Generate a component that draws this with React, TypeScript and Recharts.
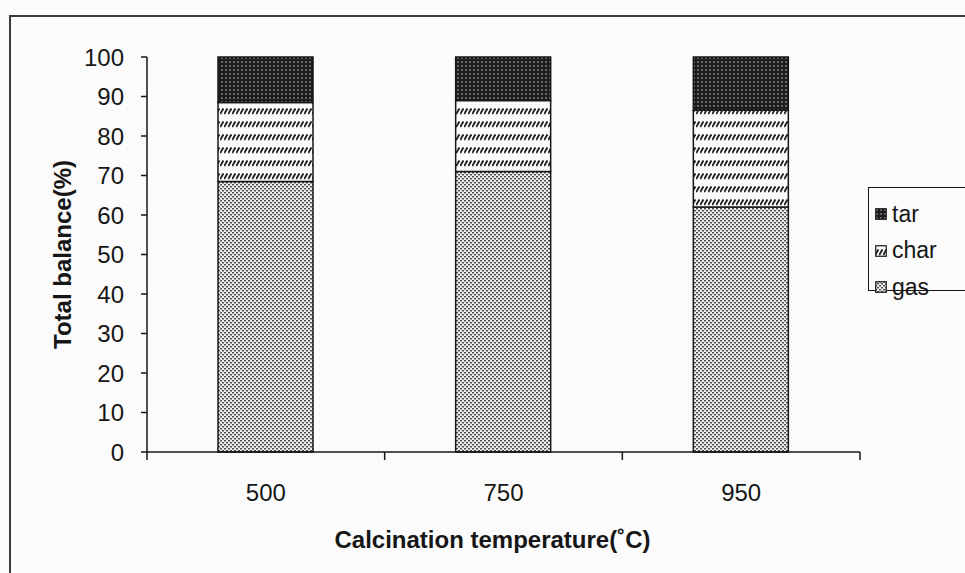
import { BarChart, Bar, XAxis, YAxis, Legend, Label } from 'recharts';

// values (%)
const temps = ['500', '750', '950'];
const gasVals = [68.5, 71, 62];
const charVals = [20, 18, 24.5];
const tarVals = [11.5, 11, 13.5];
const yTicks = [0, 10, 20, 30, 40, 50, 60, 70, 80, 90, 100];

const series = [
  { key: 'gas', name: 'gas', fill: 'url(#pGas)' },
  { key: 'char', name: 'char', fill: 'url(#pChar)' },
  { key: 'tar', name: 'tar', fill: 'url(#pTar)' },
];

const data = temps.map((t, i) => ({
  temp: t,
  gas: gasVals[i],
  char: charVals[i],
  tar: tarVals[i],
}));

const ink = '#161616';
const font = "Arial, 'Liberation Sans', sans-serif";

// category label in the middle, tick marks on the category borders (Excel style)
function TempTick(props: any) {
  const { x, y, payload, width, visibleTicksCount, index } = props;
  const half = width / visibleTicksCount / 2;
  return (
    <g>
      {index === 0 && <line x1={x - half} x2={x - half} y1={y} y2={y + 8} stroke={ink} strokeWidth={1.5} />}
      <line x1={x + half} x2={x + half} y1={y} y2={y + 8} stroke={ink} strokeWidth={1.5} />
      <text x={x} y={y + 40} textAnchor="middle" dominantBaseline="central" fontSize={24} fill={ink} fontFamily={font}>
        {payload.value}
      </text>
    </g>
  );
}

function LegendBox() {
  const items = [...series].reverse();
  return (
    <div style={{ border: `1.5px solid ${ink}`, width: 120, height: 104, boxSizing: 'border-box', padding: '8px 0 0 6px', background: '#fcfcfc' }}>
      {items.map((s) => (
        <div key={s.key} style={{ display: 'flex', alignItems: 'center', height: 36.5, fontSize: 23, color: ink, fontFamily: font }}>
          <svg width={12} height={12} style={{ marginRight: 5 }}>
            <rect x={0.75} y={0.75} width={10.5} height={10.5} fill={s.fill} stroke={ink} strokeWidth={1.2} />
          </svg>
          {s.name}
        </div>
      ))}
    </div>
  );
}

export default function App() {
  return (
    <div style={{ position: 'absolute', left: 0, top: 0, width: 965, height: 573, overflow: 'hidden', background: '#fbfbfb', fontFamily: font }}>
      <svg width={0} height={0} style={{ position: 'absolute' }}>
        <defs>
          <pattern id="pGas" width={4} height={4} patternUnits="userSpaceOnUse">
            <rect width={4} height={4} fill="#eeeeee" />
            <rect x={0} y={0} width={2} height={1.5} fill="#505050" />
            <rect x={2} y={2} width={2} height={1.5} fill="#505050" />
          </pattern>
          <pattern id="pChar" width={4} height={13} patternUnits="userSpaceOnUse">
            <rect width={4} height={13} fill="#fafafa" />
            <path d="M0.2 10 L3.4 4.5" stroke="#222" strokeWidth={1.9} />
          </pattern>
          <pattern id="pTar" width={4} height={4} patternUnits="userSpaceOnUse">
            <rect width={4} height={4} fill="#1c1c1c" />
            <circle cx={2} cy={2} r={0.9} fill="#8c8c8c" />
          </pattern>
        </defs>
      </svg>
      <div style={{ position: 'absolute', left: 9, top: 15, width: 1000, height: 600, border: '2px solid #3a3a3a' }} />
      <BarChart
        width={965}
        height={573}
        data={data}
        margin={{ top: 57, right: 105, bottom: 0, left: 0 }}
        barSize={95}
      >
        <YAxis
          type="number"
          domain={[0, 100]}
          ticks={yTicks}
          width={147}
          tickSize={6}
          tickMargin={17}
          stroke={ink}
          strokeWidth={1.5}
          tick={{ fontSize: 24, fill: ink, fontFamily: font }}
        >
          <Label
            value="Total balance(%)"
            angle={-90}
            position="center"
            dx={-11}
            style={{ fontSize: 24, fontWeight: 'bold', fill: ink, fontFamily: font }}
          />
        </YAxis>
        <XAxis
          dataKey="temp"
          height={121}
          tickSize={0}
          tickMargin={0}
          tickLine={false}
          stroke={ink}
          strokeWidth={1.5}
          tick={<TempTick />}
        >
          <Label
            value="Calcination temperature(˚C)"
            position="insideBottom"
            offset={25}
            dx={-11}
            style={{ fontSize: 24, fontWeight: 'bold', fill: ink, fontFamily: font }}
          />
        </XAxis>
        <Legend
          layout="vertical"
          align="center"
          verticalAlign="middle"
          content={<LegendBox />}
          wrapperStyle={{ left: 868, top: 187, width: 120 }}
        />
        {series.map((s) => (
          <Bar
            key={s.key}
            dataKey={s.key}
            name={s.name}
            stackId="a"
            fill={s.fill}
            stroke={ink}
            strokeWidth={1.5}
            isAnimationActive={false}
          />
        ))}
      </BarChart>
    </div>
  );
}
